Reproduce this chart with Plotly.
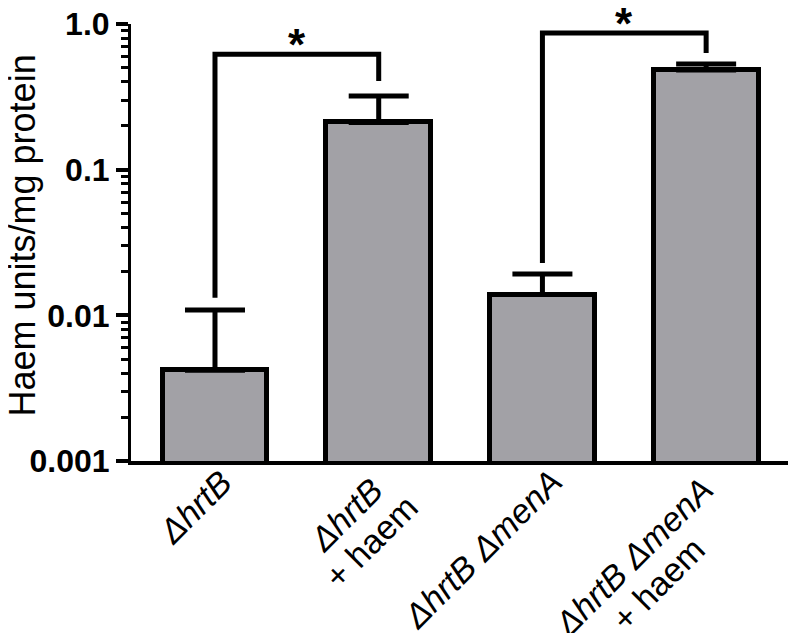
import math

import plotly.graph_objects as go

# data
strains = [0, 1, 2, 3]
strain_label_lines = [
    ["ΔhrtB"],
    ["ΔhrtB", "+ haem"],
    ["ΔhrtB ΔmenA"],
    ["ΔhrtB ΔmenA", "+ haem"],
]
haem_units = [0.0042, 0.211, 0.0139, 0.483]
haem_err = [0.0067, 0.110, 0.0053, 0.048]

# significance brackets: [left strain, right strain]
bracket_pairs = [(0, 1), (2, 3)]
bracket_left_y = [0.0132, 0.0229]
bracket_top_y = [0.62, 0.867]
bracket_right_y = [0.406, 0.632]

major_ticks = [0.001, 0.01, 0.1, 1.0]
major_text = ["0.001", "0.01", "0.1", "1.0"]
minor_ticks = [m * 10 ** e for e in (-3, -2, -1) for m in range(2, 10)]

FONT = "Arial, 'Liberation Sans', sans-serif"
GREY = "#a2a1a6"

# pixel offsets (x, y) of each rotated label line centre from its bar centre / axis
label_offsets = [
    [(-20, -46)],
    [(-33, -54), (-8, -81)],
    [(-60, -88)],
    [(-73, -96), (-48, -123)],
]

fig = go.Figure()

fig.add_trace(
    go.Bar(
        x=strains,
        y=haem_units,
        width=0.64,
        marker=dict(color=GREY, line=dict(color="black", width=5)),
        error_y=dict(
            type="data",
            symmetric=False,
            array=haem_err,
            arrayminus=[0] * len(haem_err),
            color="black",
            thickness=5,
            width=30,
        ),
    )
)

bx, by = [], []
for (a, b), yl, yt, yr in zip(bracket_pairs, bracket_left_y, bracket_top_y, bracket_right_y):
    bx += [a, a, b, b, None]
    by += [yl, yt, yt, yr, None]
fig.add_trace(
    go.Scatter(x=bx, y=by, mode="lines", line=dict(color="black", width=5), hoverinfo="skip")
)

annotations = []
for (a, b), yt in zip(bracket_pairs, bracket_top_y):
    annotations.append(
        dict(
            x=(a + b) / 2,
            y=math.log10(yt),
            xref="x",
            yref="y",
            text="<b>*</b>",
            showarrow=False,
            yanchor="middle",
            yshift=10,
            font=dict(family=FONT, size=44, color="black"),
        )
    )

for s, lines, offs in zip(strains, strain_label_lines, label_offsets):
    for line, (dx, dy) in zip(lines, offs):
        txt = line if line.startswith("+") else f"<i>{line}</i>"
        annotations.append(
            dict(
                x=s,
                y=0,
                xref="x",
                yref="paper",
                text=txt,
                showarrow=False,
                textangle=-45,
                xanchor="center",
                yanchor="middle",
                xshift=dx,
                yshift=dy,
                font=dict(family=FONT, size=34, color="black"),
            )
        )

annotations.append(
    dict(
        x=0,
        y=0.5,
        xref="paper",
        yref="paper",
        text="Haem units/mg protein",
        showarrow=False,
        textangle=-90,
        xanchor="center",
        yanchor="middle",
        xshift=-109,
        yshift=7,
        font=dict(family=FONT, size=36, color="black"),
    )
)

fig.update_layout(
    width=784,
    height=625,
    margin=dict(l=123, r=4, t=16, b=172),
    plot_bgcolor="white",
    paper_bgcolor="white",
    showlegend=False,
    bargap=0,
    annotations=annotations,
    xaxis=dict(
        range=[-0.513, 3.5],
        showline=True,
        linecolor="black",
        linewidth=3.5,
        showticklabels=False,
        ticks="",
        showgrid=False,
        zeroline=False,
    ),
    yaxis=dict(
        type="log",
        range=[-3, 0.0002],
        automargin=False,
        ticklabeloverflow="allow",
        showline=True,
        linecolor="black",
        linewidth=3,
        showgrid=False,
        zeroline=False,
        tickmode="array",
        tickvals=major_ticks,
        ticktext=major_text,
        ticks="outside",
        ticklen=12,
        tickwidth=3.5,
        tickcolor="black",
        tickfont=dict(family=FONT, size=32, color="black", weight="bold"),
        minor=dict(
            tickmode="array",
            tickvals=minor_ticks,
            ticks="outside",
            ticklen=7,
            tickwidth=3,
            tickcolor="black",
            showgrid=False,
        ),
    ),
)

fig.write_html("out.html")
